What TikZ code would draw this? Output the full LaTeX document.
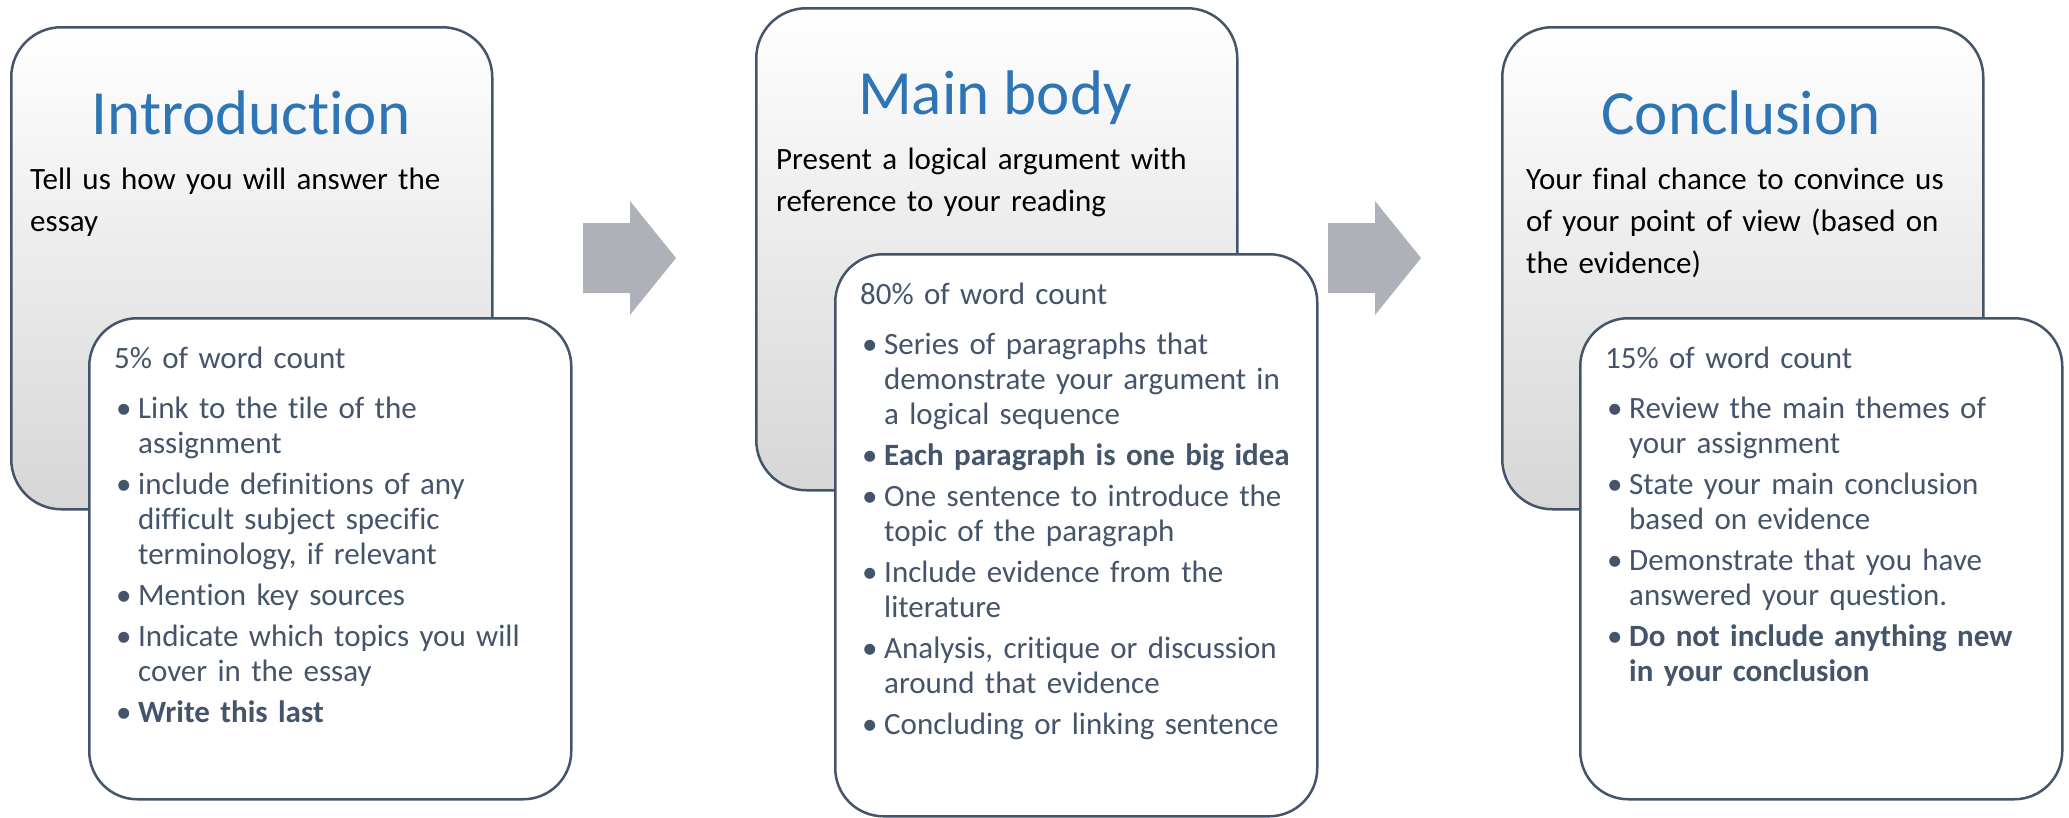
\documentclass[tikz,border=0pt]{standalone}
\usepackage{fontspec}
\setmainfont{Carlito}[Ligatures=NoCommon]
\usetikzlibrary{positioning}
\definecolor{framecolor}{HTML}{44546A}
\definecolor{titlecolor}{HTML}{2E75B6}
\definecolor{arrowcolor}{HTML}{AEB1B8}
\definecolor{shadecolor}{HTML}{D6D6D6}
\newcommand{\itm}[1]{\par\noindent\hangindent=24pt\hangafter=1%
  \hspace*{2pt}\makebox[22pt][l]{\textbullet}#1}

\begin{document}
\begin{tikzpicture}[
  x=1pt, y=-1pt,
  bigbox/.style={draw=framecolor, line width=2.5pt, rounded corners=50pt,
                 top color=white, bottom color=shadecolor,
                 minimum width=481pt, minimum height=482pt, anchor=north west},
  smallbox/.style={draw=framecolor, line width=2.5pt, rounded corners=48pt,
                   fill=white, minimum width=482pt, anchor=north west},
  heading/.style={font=\fontsize{63}{70}\selectfont, text=titlecolor,
                  anchor=base, inner sep=0pt},
  lead/.style={font=\fontsize{31}{42}\selectfont, text=black, text width=440pt,
               align=left, anchor=north west, inner sep=0pt},
  points/.style={font=\fontsize{31}{35}\selectfont\setlength{\parskip}{6pt},
                 text=framecolor, text width=470pt, align=left,
                 anchor=north west, inner sep=0pt},
  flowarrow/.pic={
    \fill[arrowcolor] (0,-35) -- (47,-35) -- (47,-57) -- (93,0)
      -- (47,57) -- (47,35) -- (0,35) -- cycle;
  },
]
  \useasboundingbox (0,0) rectangle (2069,817);

  % introduction
  \node[bigbox] (introbox) at (10,26) {};
  \node[heading] (introtitle) at (251,134) {Introduction};
  \node[lead] (introlead) at (30,168) {Tell us how you will answer the\\essay};
  \node[smallbox, minimum height=481pt] (introlist) at (88,317) {};
  \node[points] (intropoints) at (114,347) {5\% of word count\par\vspace{9pt}
    \itm{Link to the tile of the\newline assignment}
    \itm{include definitions of any\newline difficult subject specific\newline terminology, if relevant}
    \itm{Mention key sources}
    \itm{Indicate which topics you will\newline cover in the essay}
    \itm{\textbf{Write this last}}\par};

  % main body
  \node[bigbox] (bodybox) at (755,7) {};
  \node[heading] (bodytitle) at (995,114) {Main body};
  \node[lead] (bodylead) at (776,148) {Present a logical argument with\\reference to your reading};
  \node[smallbox, minimum height=562pt] (bodylist) at (834,253) {};
  \node[points] (bodypoints) at (860,283) {80\% of word count\par\vspace{9pt}
    \itm{Series of paragraphs that\newline demonstrate your argument in\newline a logical sequence}
    \itm{\textbf{Each paragraph is one big idea}}
    \itm{One sentence to introduce the\newline topic of the paragraph}
    \itm{Include evidence from the\newline literature}
    \itm{Analysis, critique or discussion\newline around that evidence}
    \itm{Concluding or linking sentence}\par};

  % conclusion
  \node[bigbox] (conclbox) at (1501,26) {};
  \node[heading] (concltitle) at (1741,134) {Conclusion};
  \node[lead] (concllead) at (1526,168) {Your final chance to convince us\\of your point of view (based on\\the evidence)};
  \node[smallbox, minimum height=481pt] (concllist) at (1579,317) {};
  \node[points] (conclpoints) at (1605,347) {15\% of word count\par\vspace{9pt}
    \itm{Review the main themes of\newline your assignment}
    \itm{State your main conclusion\newline based on evidence}
    \itm{Demonstrate that you have\newline answered your question.}
    \itm{\textbf{Do not include anything new\newline in your conclusion}}\par};

  % arrows between the stages
  \pic at (583,258) {flowarrow};
  \pic at (1328,258) {flowarrow};
\end{tikzpicture}
\end{document}
